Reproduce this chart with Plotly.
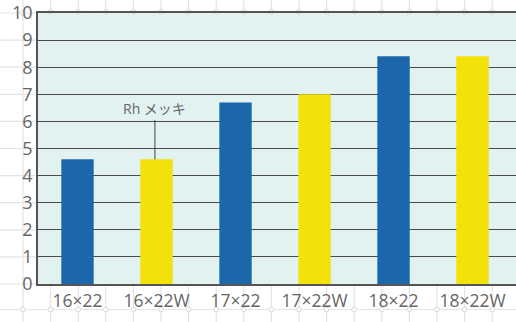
import plotly.graph_objects as go

# Data
categories = ["16×22", "16×22W", "17×22", "17×22W", "18×22", "18×22W"]
values = [4.6, 4.6, 6.7, 7.0, 8.4, 8.4]
bar_colors = ["#1c67ab", "#f3e10a", "#1c67ab", "#f3e10a", "#1c67ab", "#f3e10a"]
y_ticks = list(range(0, 11))
note_text = "Rh メッキ"
note_category = "16×22W"

W, H = 516, 322
ml, mr, mt, mb = 38, 0, 13, 38
pw, ph = W - ml - mr, H - mt - mb
plot_bottom = H - mb


def px_x(x):
    return (x - ml) / pw


def px_y(y):
    return (plot_bottom - y) / ph


fig = go.Figure(go.Bar(
    x=categories, y=values, marker_color=bar_colors,
    marker_line_width=0, width=0.41,
))

# faint sheet grid around the chart area
shapes = []
grid_col = "#e4e4e4"
xs = [23 + 27.6 * i for i in range(19)]
ys = [13 + 27.1 * i for i in range(11)]


def seg(x0, y0, x1, y1):
    shapes.append(dict(type="line", xref="paper", yref="paper", layer="below",
                       x0=px_x(x0), x1=px_x(x1), y0=px_y(y0), y1=px_y(y1),
                       line=dict(color=grid_col, width=1.2)))


for gx in xs:
    if gx < ml:
        seg(gx, 0, gx, H)
    else:
        seg(gx, 0, gx, mt)
        seg(gx, plot_bottom, gx, H)
for gy in ys:
    seg(0, gy, ml, gy)
seg(0, 309.5, W, 309.5)

r = 2.3
for gx in xs:
    for gy in (13, 309.5):
        if gy == 13 and gx > ml:
            continue
        shapes.append(dict(type="circle", xref="paper", yref="paper", layer="below",
                           x0=px_x(gx - r), x1=px_x(gx + r),
                           y0=px_y(gy + r), y1=px_y(gy - r),
                           line=dict(color="#d8d8d8", width=1), fillcolor="white"))
for gx in xs:
    if gx > ml:
        shapes.append(dict(type="circle", xref="paper", yref="paper", layer="below",
                           x0=px_x(gx - r), x1=px_x(gx + r),
                           y0=px_y(mt + 1), y1=px_y(mt - 2 * r + 1),
                           line=dict(color="#d8d8d8", width=1), fillcolor="white"))

# leader line from the note down to the bar
note_idx = categories.index(note_category)
shapes.append(dict(type="line", xref="x", yref="y", layer="above",
                   x0=note_idx - 0.02, x1=note_idx - 0.02,
                   y0=values[note_idx], y1=6.05,
                   line=dict(color="#444444", width=1)))

fig.update_layout(
    width=W, height=H,
    margin=dict(l=ml, r=mr, t=mt, b=mb),
    paper_bgcolor="white",
    plot_bgcolor="#e1f2f1",
    showlegend=False,
    shapes=shapes,
    font=dict(family="Open Sans, Noto Sans CJK JP", color="#666666"),
    annotations=[dict(
        x=note_idx - 0.02, y=6.05, xref="x", yref="y",
        text=note_text, showarrow=False, yanchor="bottom",
        font=dict(size=14, color="#666666",
                  family="Open Sans, Noto Sans CJK JP"),
    )],
)
fig.update_xaxes(
    range=[-0.5, 5.55], showgrid=False, zeroline=False,
    showline=True, mirror=True, linecolor="#555555", linewidth=1.5,
    ticks="", tickfont=dict(size=17.5, color="#666666"),
)
fig.update_yaxes(
    range=[0, 10], tickvals=y_ticks, showgrid=True,
    gridcolor="#4a4a4a", gridwidth=1.4, zeroline=False,
    showline=True, linecolor="#555555", linewidth=1.5,
    ticks="", tickfont=dict(size=18, color="#666666"),
)

fig.write_html("out.html")
